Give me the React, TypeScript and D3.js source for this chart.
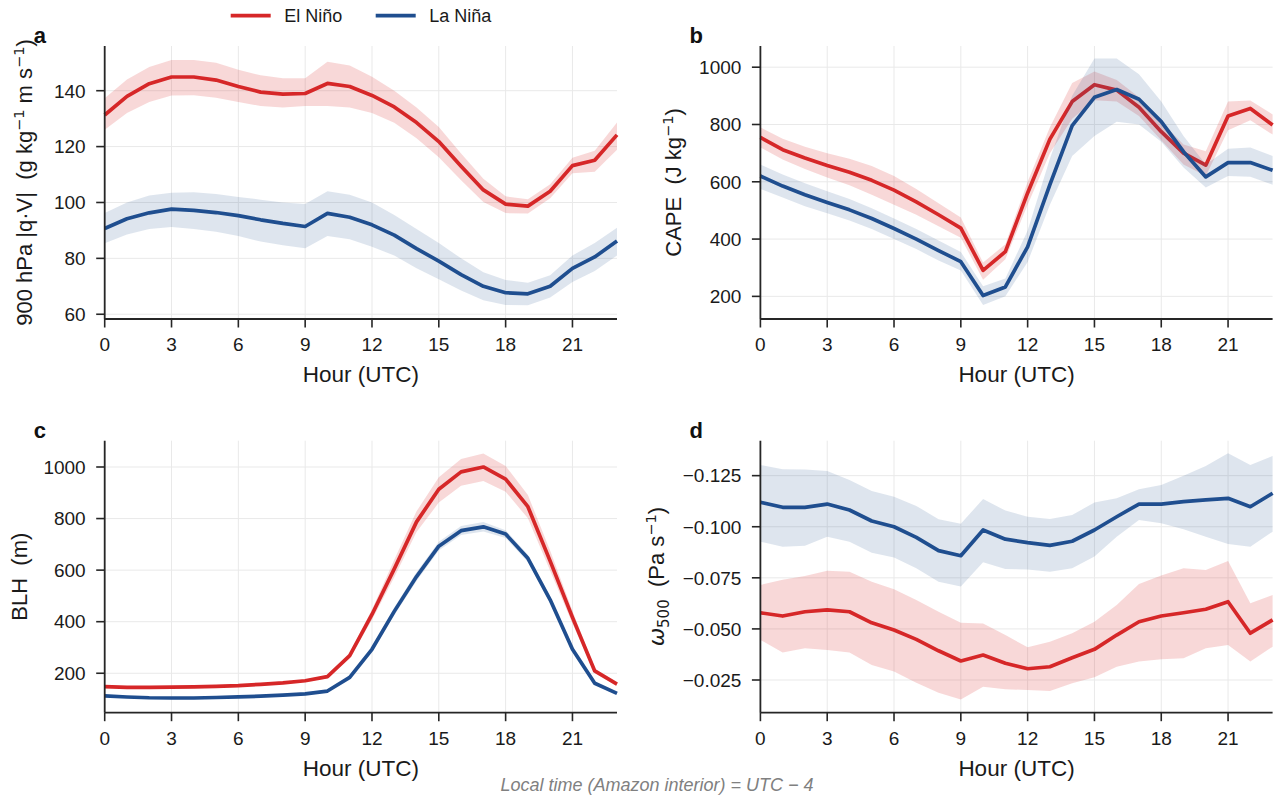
import React from "react";
import * as d3 from "d3";

// ---------- data ----------
const hours = [0, 1, 2, 3, 4, 5, 6, 7, 8, 9, 10, 11, 12, 13, 14, 15, 16, 17, 18, 19, 20, 21, 22, 23];
const xTicks = [0, 3, 6, 9, 12, 15, 18, 21];

// (a) 900 hPa |q·V|
const qvElMean = [131.3, 138, 142.5, 144.9, 144.9, 143.8, 141.5, 139.5, 138.8, 139.0, 142.6, 141.5, 138.3, 134.2, 128.6, 121.8, 113, 104.5, 99.4, 98.7, 104, 113.2, 115.1, 124.2];
const qvElHi = [137.3, 144, 148.5, 151, 151, 150, 147.5, 145.5, 144.5, 144.5, 150.4, 149, 145, 140, 134, 127, 117.5, 108.5, 102.2, 101.2, 106.5, 116, 118.5, 128.6];
const qvElLo = [126, 132, 136, 138.3, 138.4, 137.5, 136, 134.5, 134, 134.5, 134.5, 134, 132, 128.5, 123, 116.2, 108, 100.2, 96.2, 96.1, 101.5, 110.5, 111, 118.9];
const qvLaMean = [90.7, 94.2, 96.3, 97.6, 97.2, 96.4, 95.3, 93.8, 92.5, 91.4, 96.1, 94.7, 92, 88.3, 83.5, 79, 74.2, 70, 67.7, 67.3, 70, 76.4, 80.5, 86.2];
const qvLaHi = [96.2, 100, 102.5, 103.5, 103.7, 103, 102, 101, 100, 99.5, 104, 102.8, 100, 95.5, 90.5, 85.5, 80, 75, 72.3, 71.3, 74, 81, 85.5, 91];
const qvLaLo = [85.4, 88.5, 90.5, 91.2, 90.5, 89.5, 88, 86, 84.7, 83.6, 88, 86.8, 84.2, 81, 76.5, 72.5, 68.5, 65, 63.3, 63.2, 66, 71.5, 75.5, 81];

// (b) CAPE
const capeElMean = [755, 712, 683, 657, 633, 605, 571, 530, 485, 438, 291, 356, 561, 749, 880, 939, 920, 860, 775, 700, 658, 830, 856, 798];
const capeElHi = [790, 750, 722, 700, 680, 655, 620, 575, 525, 475, 318, 382, 600, 790, 945, 985, 955, 895, 810, 730, 707, 880, 884, 835];
const capeElLo = [720, 678, 645, 615, 588, 555, 520, 485, 445, 405, 258, 330, 520, 700, 820, 885, 880, 830, 745, 660, 620, 780, 815, 765];
const capeLaMean = [620, 585, 555, 528, 502, 472, 437, 400, 360, 321, 203, 233, 373, 590, 796, 895, 922, 888, 810, 705, 617, 667, 667, 640];
const capeLaHi = [660, 625, 595, 567, 540, 508, 472, 435, 395, 355, 235, 262, 430, 680, 900, 1030, 1030, 975, 880, 760, 660, 715, 720, 690];
const capeLaLo = [575, 545, 515, 490, 465, 435, 400, 365, 325, 290, 170, 200, 320, 520, 690, 760, 810, 800, 740, 650, 580, 620, 618, 590];

// (c) BLH
const blhElMean = [148, 145, 145, 146, 147, 149, 152, 157, 163, 171, 187, 268, 428, 605, 787, 914, 981, 1000, 953, 846, 635, 417, 209, 158];
const blhElHi = [153, 150, 150, 151, 152, 154, 157, 162, 168, 176, 193, 279, 447, 640, 828, 960, 1031, 1052, 1004, 891, 675, 442, 218, 164];
const blhElLo = [143, 140, 140, 141, 142, 144, 147, 152, 158, 166, 181, 258, 408, 572, 748, 862, 927, 946, 904, 801, 598, 393, 200, 152];
const blhLaMean = [112, 108, 105, 104, 104, 106, 108, 111, 115, 120, 131, 184, 293, 440, 575, 693, 753, 768, 740, 646, 485, 293, 161, 122];
const blhLaHi = [116, 112, 109, 108, 108, 110, 112, 115, 119, 124, 136, 190, 303, 455, 592, 710, 771, 787, 755, 660, 498, 302, 166, 126];
const blhLaLo = [108, 104, 101, 100, 100, 102, 104, 107, 111, 116, 126, 178, 283, 425, 558, 676, 736, 750, 725, 632, 472, 284, 156, 118];

// (d) omega 500
const omElMean = [-0.0579, -0.0563, -0.0584, -0.0593, -0.0584, -0.0530, -0.0495, -0.0449, -0.0393, -0.0343, -0.0372, -0.0332, -0.0305, -0.0315, -0.0359, -0.0400, -0.0470, -0.0535, -0.0563, -0.0579, -0.0596, -0.0633, -0.0479, -0.0544];
const omElHi = [-0.0715, -0.0740, -0.0759, -0.0785, -0.0780, -0.0731, -0.0694, -0.0642, -0.0584, -0.0530, -0.0527, -0.0470, -0.0410, -0.0437, -0.0479, -0.0535, -0.0617, -0.0720, -0.0761, -0.0797, -0.0788, -0.0832, -0.0625, -0.0666];
const omElLo = [-0.0446, -0.0385, -0.0405, -0.0397, -0.0384, -0.0323, -0.0291, -0.0237, -0.0188, -0.0155, -0.0217, -0.0205, -0.0201, -0.0196, -0.0234, -0.0263, -0.0315, -0.0340, -0.0351, -0.0356, -0.0405, -0.0421, -0.0340, -0.0413];
const omLaMean = [-0.1120, -0.1095, -0.1095, -0.1111, -0.1082, -0.1028, -0.1000, -0.0948, -0.0883, -0.0858, -0.0984, -0.0939, -0.0922, -0.0909, -0.0929, -0.0984, -0.1049, -0.1111, -0.1111, -0.1123, -0.1131, -0.1139, -0.1098, -0.1164];
const omLaHi = [-0.1302, -0.1281, -0.1280, -0.1273, -0.1229, -0.1175, -0.1147, -0.1102, -0.1037, -0.1014, -0.1136, -0.1079, -0.1049, -0.1038, -0.1058, -0.1118, -0.1139, -0.1183, -0.1204, -0.1249, -0.1297, -0.1360, -0.1302, -0.1346];
const omLaLo = [-0.0927, -0.0902, -0.0907, -0.0951, -0.0927, -0.0873, -0.0849, -0.0797, -0.0731, -0.0707, -0.0826, -0.0793, -0.0791, -0.0780, -0.0797, -0.0854, -0.0951, -0.1033, -0.1017, -0.0988, -0.0951, -0.0916, -0.0902, -0.0976];

const qvTicks = [60, 80, 100, 120, 140];
const capeTicks = [200, 400, 600, 800, 1000];
const blhTicks = [200, 400, 600, 800, 1000];
const omTicks = [-0.125, -0.1, -0.075, -0.05, -0.025];

const seriesNames = ["El Niño", "La Niña"];

// ---------- style ----------
const RED = "#d62728";
const BLUE = "#1f4e8f";
const AXIS = "#262626";
const GRID = "#e9e9e9";
const TEXT = "#1a1a1a";
const FONT = "'Liberation Sans', Arial, Helvetica, sans-serif";
const MATH = "'DejaVu Sans', sans-serif";

type PanelDef = {
  letter: string;
  left: number; right: number; top: number; bottom: number;
  yDomain: [number, number];
  yTicks: number[];
  fmt: (v: number) => string;
  el: [number[], number[], number[]];
  la: [number[], number[], number[]];
  ylabel: React.ReactNode;
  ylabelX: number;
};

const fmtInt = (v: number) => String(v);
const fmtOm = (v: number) => d3.format(".3f")(v).replace("-", "−");

const panels: PanelDef[] = [
  {
    letter: "a", left: 104.7, right: 617, top: 46, bottom: 319,
    yDomain: [58.3, 156], yTicks: qvTicks, fmt: fmtInt,
    el: [qvElMean, qvElLo, qvElHi], la: [qvLaMean, qvLaLo, qvLaHi],
    ylabelX: 32,
    ylabel: (
      <>
        {"900 hPa |q·V|  (g kg"}
        <tspan dy={-8} fontSize={14.5} fontFamily={MATH}>−1</tspan>
        <tspan dy={8}>{" m s"}</tspan>
        <tspan dy={-8} fontSize={14.5} fontFamily={MATH}>−1</tspan>
        <tspan dy={8}>)</tspan>
      </>
    ),
  },
  {
    letter: "b", left: 760.4, right: 1272.6, top: 46, bottom: 319,
    yDomain: [121, 1074], yTicks: capeTicks, fmt: fmtInt,
    el: [capeElMean, capeElLo, capeElHi], la: [capeLaMean, capeLaLo, capeLaHi],
    ylabelX: 681,
    ylabel: (
      <>
        {"CAPE  (J kg"}
        <tspan dy={-8} fontSize={14.5} fontFamily={MATH}>−1</tspan>
        <tspan dy={8}>)</tspan>
      </>
    ),
  },
  {
    letter: "c", left: 104.7, right: 617, top: 440.7, bottom: 712.7,
    yDomain: [47, 1102], yTicks: blhTicks, fmt: fmtInt,
    el: [blhElMean, blhElLo, blhElHi], la: [blhLaMean, blhLaLo, blhLaHi],
    ylabelX: 27,
    ylabel: <>{"BLH  (m)"}</>,
  },
  {
    letter: "d", left: 760.4, right: 1272.6, top: 440.7, bottom: 712.7,
    yDomain: [-0.009, -0.1421], yTicks: omTicks, fmt: fmtOm,
    el: [omElMean, omElLo, omElHi], la: [omLaMean, omLaLo, omLaHi],
    ylabelX: 664,
    ylabel: (
      <>
        <tspan fontFamily={MATH} fontStyle="italic">ω</tspan>
        <tspan dy={5} fontSize={15} fontFamily={MATH}>500</tspan>
        <tspan dy={-5}>{"  (Pa s"}</tspan>
        <tspan dy={-8} fontSize={14.5} fontFamily={MATH}>−1</tspan>
        <tspan dy={8}>)</tspan>
      </>
    ),
  },
];

function Panel({ p }: { p: PanelDef }) {
  const x = d3.scaleLinear().domain([0, 23]).range([p.left, p.right]);
  const y = d3.scaleLinear().domain(p.yDomain).range([p.bottom, p.top]);
  const line = (vals: number[]) =>
    d3.line<number>().x((_, i) => x(hours[i])).y((d) => y(d))(vals) || "";
  const area = (lo: number[], hi: number[]) =>
    d3
      .area<number>()
      .x((_, i) => x(hours[i]))
      .y0((d) => y(d))
      .y1((_, i) => y(hi[i]))(lo) || "";
  const cx = (p.left + p.right) / 2;
  const cy = (p.top + p.bottom) / 2;
  return (
    <g>
      {xTicks.map((t) => (
        <line key={"gx" + t} x1={x(t)} x2={x(t)} y1={p.top} y2={p.bottom} stroke={GRID} strokeWidth={1} />
      ))}
      {p.yTicks.map((t) => (
        <line key={"gy" + t} x1={p.left} x2={p.right} y1={y(t)} y2={y(t)} stroke={GRID} strokeWidth={1} />
      ))}
      <path d={area(p.el[1], p.el[2])} fill={RED} fillOpacity={0.18} stroke="none" />
      <path d={line(p.el[0])} fill="none" stroke={RED} strokeWidth={3.7} strokeLinejoin="round" />
      <path d={area(p.la[1], p.la[2])} fill={BLUE} fillOpacity={0.15} stroke="none" />
      <path d={line(p.la[0])} fill="none" stroke={BLUE} strokeWidth={3.7} strokeLinejoin="round" />
      <line x1={p.left} x2={p.left} y1={p.top} y2={p.bottom} stroke={AXIS} strokeWidth={1.8} />
      <line x1={p.left} x2={p.right} y1={p.bottom} y2={p.bottom} stroke={AXIS} strokeWidth={1.8} />
      {xTicks.map((t) => (
        <g key={"xt" + t}>
          <line x1={x(t)} x2={x(t)} y1={p.bottom} y2={p.bottom + 8.5} stroke={AXIS} strokeWidth={1.6} />
          <text x={x(t)} y={p.bottom + 32} textAnchor="middle" fontSize={19} fontFamily={FONT} fill={TEXT}>
            {t}
          </text>
        </g>
      ))}
      {p.yTicks.map((t) => (
        <g key={"yt" + t}>
          <line x1={p.left - 8.5} x2={p.left} y1={y(t)} y2={y(t)} stroke={AXIS} strokeWidth={1.6} />
          <text x={p.left - 19} y={y(t)} dy={6.8} textAnchor="end" fontSize={19} fontFamily={FONT} fill={TEXT}>
            {p.fmt(t)}
          </text>
        </g>
      ))}
      <text x={cx} y={p.bottom + 63} textAnchor="middle" fontSize={22.5} fontFamily={FONT} fill={TEXT}>
        Hour (UTC)
      </text>
      <text
        transform={`translate(${p.ylabelX},${cy}) rotate(-90)`}
        textAnchor="middle"
        fontSize={22}
        fontFamily={FONT}
        fill={TEXT}
        xmlSpace="preserve"
        style={{ whiteSpace: "pre" }}
      >
        {p.ylabel}
      </text>
      <text x={p.left - 71} y={p.top - 3} fontSize={22} fontWeight="bold" fontFamily={FONT} fill="#111">
        {p.letter}
      </text>
    </g>
  );
}

export default function App() {
  const legendX = d3.scaleLinear().domain([0, 1]).range([230.7, 375.7]);
  const colors = [RED, BLUE];
  return (
    <svg
      width={1278}
      height={797}
      viewBox="0 0 1278 797"
      style={{ position: "absolute", left: 0, top: 0, display: "block", background: "#fff" }}
    >
      <rect x={0} y={0} width={1278} height={797} fill="#fff" />
      {panels.map((p) => (
        <Panel key={p.letter} p={p} />
      ))}
      {seriesNames.map((name, i) => (
        <g key={name}>
          <line x1={legendX(i)} x2={legendX(i) + 40} y1={15.7} y2={15.7} stroke={colors[i]} strokeWidth={3.8} />
          <text x={legendX(i) + 53.5} y={22} fontSize={18} fontFamily={FONT} fill={TEXT}>
            {name}
          </text>
        </g>
      ))}
      <text
        x={657}
        y={791}
        textAnchor="middle"
        fontSize={18}
        fontStyle="italic"
        fontFamily={FONT}
        fill="#808080"
      >
        Local time (Amazon interior) = UTC − 4
      </text>
    </svg>
  );
}
